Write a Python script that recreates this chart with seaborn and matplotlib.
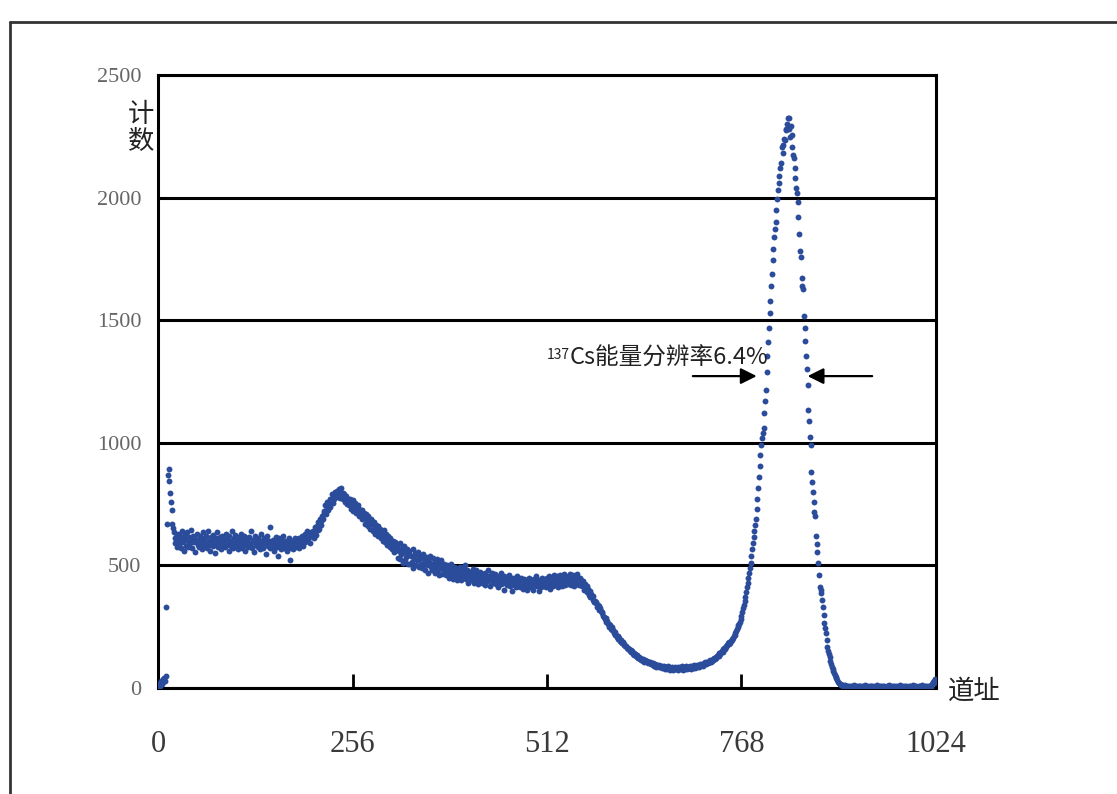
import numpy as np
import matplotlib
matplotlib.use("Agg")
import matplotlib.pyplot as plt
from matplotlib.lines import Line2D
import seaborn as sns

# ---------------- data ----------------
counts_start = [5, 12, 20, 8, 30, 18, 35, 25, 42, 30, 50,
                331, 669, 870, 895, 845, 795, 760, 726, 669, 652, 637, 612]

counts_plateau = [
    590, 615, 575, 630, 600, 585, 620, 570, 640, 605, 595, 560, 625, 610, 580, 635,
    600, 575, 615, 590, 645, 605, 570, 620, 595, 610, 555, 600, 630, 585, 605, 575,
    620, 590, 600, 565, 635, 610, 580, 600, 620, 570, 595, 640, 585, 605, 560, 615,
    595, 625, 580, 600, 550, 610, 590, 635, 575, 600, 615, 585, 565, 620, 600, 590,
    610, 575, 630, 595, 585, 605, 560, 620, 600, 580, 640, 595, 570, 610, 590, 625,
    580, 600, 565, 615, 595, 585, 630, 570, 605, 590, 620, 560, 600, 585, 610, 575,
    595, 615, 580, 640, 590, 570, 605, 600, 555, 620, 585, 600, 575, 610, 595, 565,
    600, 630, 585, 570, 610, 590, 605, 545, 595, 620, 580, 600, 570, 655, 590, 575,
    605, 585, 560, 600, 615, 575, 590, 540, 610, 580, 595, 565, 600, 585, 620, 570,
    590, 575, 600, 560, 585, 610, 570, 520, 595, 580, 600, 565, 590, 610, 575, 595,
    585, 600, 570, 610,
]

counts_backscatter = [
    600, 585, 620, 605, 580, 615, 630, 595, 610, 640, 600, 625, 615, 590, 635, 620,
    620, 640, 610, 655, 635, 625, 660, 645, 675, 650, 690, 665, 680, 700, 690, 715,
    720, 745, 710, 735, 760, 725, 750, 770, 740, 765, 790, 755, 780, 770, 800, 785,
    790, 805, 780, 810, 775, 800, 815, 785, 770, 795, 790, 760, 780, 785, 750, 770,
    760, 745, 770, 730, 750, 765, 720, 740, 755, 715, 735, 725, 745, 700, 730, 715,
    700, 725, 690, 705, 715, 670, 695, 710, 680, 660, 700, 685, 650, 690, 670, 680,
    640, 675, 655, 630, 665, 645, 620, 660, 635, 650, 610, 640, 625, 600, 645, 620,
    595, 630, 610, 585, 620, 600, 575, 610, 590, 565, 600, 580, 555, 595, 570, 580,
]

counts_compton = [
    575, 530, 560, 590, 525, 545, 570, 510, 555, 580, 520, 550, 535, 565, 505, 545,
    560, 505, 540, 515, 565, 490, 530, 550, 500, 545, 520, 555, 495, 525, 540, 505,
    530, 490, 545, 510, 520, 480, 535, 500, 525, 470, 515, 540, 495, 505, 480, 530,
    485, 515, 470, 500, 525, 480, 495, 460, 510, 490, 520, 465, 500, 475, 505, 485,
    460, 500, 475, 490, 450, 485, 505, 465, 480, 445, 495, 470, 455, 490, 475, 440,
    480, 455, 495, 465, 440, 475, 485, 450, 470, 500, 445, 465, 480, 430, 470, 455,
    475, 440, 465, 485, 450, 430, 470, 455, 480, 445, 425, 465, 450, 475, 440, 460,
    430, 465, 450, 420, 470, 440, 455, 480, 435, 450, 415, 460, 445, 470, 430, 455,
    440, 465, 425, 450, 435, 410, 455, 440, 470, 425, 445, 430, 455, 400, 440, 450,
    420, 445, 430, 460, 415, 440, 425, 395, 450, 430, 420, 445, 410, 435, 455, 425,
    440, 410, 430, 450, 420, 435, 405, 445, 425, 415, 440, 400, 430, 450, 420, 435,
    410, 440, 425, 400, 445, 420, 430, 455, 415, 425, 395, 440, 430, 410, 450, 420,
    435, 415, 445, 425, 410, 450, 430, 420, 455, 405, 440, 425, 445, 415, 460, 430,
    445, 420, 455, 430, 410, 445, 460, 425, 440, 415, 450, 435, 465, 420, 445, 430,
    455, 425, 440, 465, 420, 445, 430, 460, 415, 450, 440, 425, 465, 435, 445, 420,
    450, 430, 440, 415, 435, 420, 400, 425, 405, 415, 390, 405, 380, 395, 370, 385,
]

counts_valley = [
    370, 360, 375, 350, 355, 345, 350, 330, 340, 335, 320, 325, 315, 305, 310, 295,
    290, 280, 285, 270, 275, 260, 262, 250, 255, 240, 248, 235, 238, 225, 230, 218,
    215, 208, 212, 198, 204, 190, 195, 188, 182, 186, 175, 178, 170, 172, 165, 162,
    160, 158, 150, 155, 145, 150, 140, 144, 135, 138, 132, 128, 134, 124, 128, 120,
    124, 116, 120, 112, 118, 108, 114, 110, 104, 112, 102, 106, 100, 104, 96, 102,
    94, 100, 90, 96, 92, 86, 95, 88, 92, 84, 90, 86, 80, 88, 84, 90,
    78, 86, 82, 76, 88, 80, 84, 74, 82, 78, 86, 72, 80, 84, 76, 82,
    78, 84, 72, 80, 86, 76, 82, 88, 74, 80, 84, 78, 90, 76, 82, 86,
    80, 88, 84, 78, 90, 82, 86, 92, 80, 88, 94, 84, 90, 86, 96, 88,
    92, 98, 90, 100, 96, 104, 98, 102, 108, 100, 110, 106, 114, 108, 112, 118,
    116, 122, 120, 128, 124, 132, 136, 130, 142, 140, 148, 152, 146, 158, 162, 160,
    170, 166, 176, 182, 178, 188, 184, 192, 198, 195, 205, 212, 218, 225, 232, 240,
    250, 255, 262, 270, 282, 295, 310, 325, 340, 355, 370, 390, 410, 430, 450, 470,
]

counts_photopeak = [
    490, 510, 540, 565, 590, 615, 640, 665, 690, 730, 770, 815, 860, 905, 950, 990,
    1020, 1040, 1060, 1120, 1170, 1215, 1290, 1354, 1410, 1470, 1530, 1578, 1640, 1690, 1745, 1790,
    1840, 1870, 1900, 1950, 1994, 2030, 2060, 2090, 2120, 2141, 2206, 2180, 2215, 2240, 2235, 2280,
    2276, 2300, 2325, 2325, 2280, 2247, 2290, 2255, 2206, 2174, 2161, 2121, 2080, 2040, 2019, 1982,
    1921, 1850, 1782, 1758, 1672, 1640, 1627, 1517, 1470, 1415, 1354, 1300, 1236, 1134, 1089, 1024,
    991, 881, 840, 799, 760, 718, 701, 620, 587, 555, 510, 461, 412, 400, 387, 359,
    330, 298, 265, 245, 224, 195, 167, 150, 138, 126, 112, 98, 86, 78, 70, 62,
    53, 46, 40, 34, 24, 20, 18, 15, 14, 12, 12, 10, 9, 11, 8, 7,
]

counts_tail = [
    6, 9, 4, 8, 5, 10, 3, 7, 6, 11, 4, 8, 5, 9, 3, 7,
    8, 4, 10, 6, 3, 9, 5, 12, 4, 7, 6, 2, 9, 5, 8, 3,
    7, 10, 4, 6, 9, 3, 8, 5, 11, 4, 6, 9, 2, 7, 5, 10,
    4, 8, 6, 3, 9, 5, 7, 12, 4, 6, 8, 3, 10, 5, 7, 4,
    9, 6, 3, 8, 5, 11, 4, 7, 6, 2, 9, 5, 8, 4, 10, 6,
    3, 7, 5, 9, 4, 8, 6, 12, 3, 7, 5, 10, 4, 6, 9, 5,
    8, 3, 7, 11, 4, 6, 9, 5, 7, 4, 10, 6, 3, 8, 5, 12,
    18, 25, 30, 22, 35,
]

counts = np.array(counts_start + counts_plateau + counts_backscatter +
                  counts_compton + counts_valley + counts_photopeak + counts_tail,
                  dtype=float)
channels = np.arange(len(counts))

x_ticks = [0, 256, 512, 768, 1024]
y_ticks = [0, 500, 1000, 1500, 2000, 2500]

# ---------------- figure ----------------
sns.set_theme(style="white")
plt.rcParams["font.family"] = ["Noto Sans CJK SC", "DejaVu Sans"]

fig = plt.figure(figsize=(11.17, 7.94), dpi=100)
ax = fig.add_axes([158 / 1117, 1 - 688 / 794, (936 - 158) / 1117, (688 - 75) / 794])

sns.scatterplot(x=channels, y=counts, ax=ax, color="#2b4b9b", s=18,
                linewidth=0, marker="o", legend=False, zorder=3)

ax.set_xlim(0, 1024)
ax.set_ylim(0, 2500)
ax.set_xticks(x_ticks)
ax.set_yticks(y_ticks)
ax.set_xticklabels([str(t) for t in x_ticks], family="Liberation Serif",
                   fontsize=22, color="#3a3a3a")
ax.set_yticklabels([str(t) for t in y_ticks], family="Liberation Serif",
                   fontsize=16, color="#666666")
ax.tick_params(axis="x", direction="in", length=10, width=2, color="black",
               pad=30, bottom=True)
ax.tick_params(axis="y", length=0, pad=12)
ax.set_xlabel("")
ax.set_ylabel("")

ax.yaxis.grid(True, color="black", linewidth=2.2)
ax.xaxis.grid(False)
ax.set_axisbelow(True)
for sp in ax.spines.values():
    sp.set_color("black")
    sp.set_linewidth(2.2)
    sp.set_visible(True)

# axis labels
fig.text(141 / 1117, 1 - 128 / 794, "计\n数", ha="center", va="center",
         fontsize=19, color="#222222", linespacing=1.0)
fig.text(974 / 1117, 1 - 691 / 794, "道址", ha="center", va="center",
         fontsize=19, color="#222222")

# annotation
main_txt = ax.text(803, 1346, "Cs能量分辨率6.4%", ha="right", va="center",
                   fontsize=17, color="#222222")
ax.annotate("137", xy=(0, 0.95), xycoords=main_txt, ha="right", va="top",
            fontsize=10, color="#222222")
ax.annotate("", xy=(788, 1272), xytext=(704, 1272),
            arrowprops=dict(arrowstyle="-|>", color="black", lw=1.6,
                            mutation_scale=24, shrinkA=0, shrinkB=0))
ax.annotate("", xy=(855, 1272), xytext=(940, 1272),
            arrowprops=dict(arrowstyle="-|>", color="black", lw=1.6,
                            mutation_scale=24, shrinkA=0, shrinkB=0))

# outer frame (top and left)
fig.add_artist(Line2D([10 / 1117, 1.0], [1 - 22 / 794, 1 - 22 / 794],
                      transform=fig.transFigure, color="#333333", lw=2))
fig.add_artist(Line2D([10 / 1117, 10 / 1117], [0, 1 - 22 / 794],
                      transform=fig.transFigure, color="#333333", lw=2))

fig.savefig("out.png", dpi=100)
